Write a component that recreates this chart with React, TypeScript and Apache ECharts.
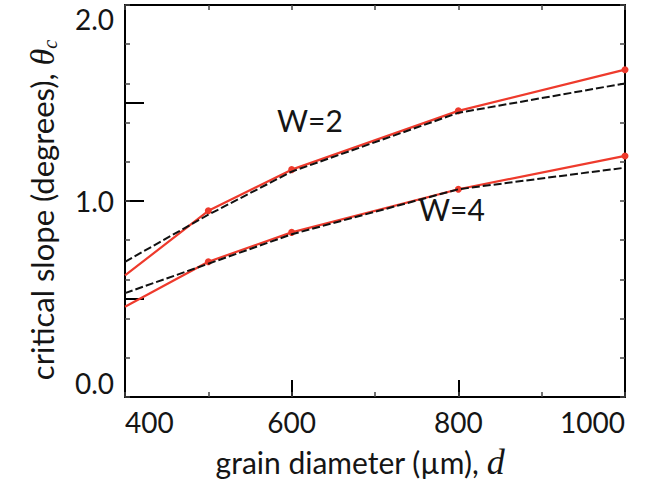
import React, { useEffect, useRef } from 'react';
import * as echarts from 'echarts';

const diameters = [400, 500, 600, 800, 1000];
const w2Sim = [0.62, 0.95, 1.16, 1.46, 1.67];
const w2Fit = [0.69, 0.93, 1.15, 1.45, 1.6];
const w4Sim = [0.46, 0.69, 0.84, 1.06, 1.23];
const w4Fit = [0.53, 0.68, 0.83, 1.06, 1.17];
const curveLabels = ['W=2', 'W=4'];
const xTitle = 'grain diameter (µm), ';
const xVar = 'd';
const yTitle = 'critical slope (degrees), ';
const yVar = 'θ';
const ySub = 'c';

const SANS = 'Lato';
const SERIF = 'Liberation Serif';
const RED = '#ee3a2c';
const INK = '#151515';

function pairs(xs: number[], ys: number[], hideFirst: boolean) {
  return xs.map((x, i) =>
    hideFirst && i === 0 ? { value: [x, ys[i]], symbol: 'none' } : { value: [x, ys[i]] }
  );
}

export default function App() {
  const ref = useRef<HTMLDivElement>(null);
  useEffect(() => {
    const chart = echarts.init(ref.current!, null, { renderer: 'svg' });
    const axisLine = { show: true, onZero: false, lineStyle: { color: '#000', width: 2 } };
    const minorTick = { show: true, inside: true, length: 5, lineStyle: { color: '#444', width: 1.5 } };
    chart.setOption({
      animation: false,
      backgroundColor: '#fff',
      grid: { left: 125, right: 29, top: 5, bottom: 88, containLabel: false },
      xAxis: [
        {
          type: 'value', position: 'bottom', min: 400, max: 1000, interval: 200,
          axisLine,
          axisTick: { show: true, inside: true, length: 17, lineStyle: { color: '#000', width: 2 } },
          axisLabel: {
            fontFamily: SANS, fontSize: 28, color: INK, margin: 11,
            formatter: (v: number) => String(v),
            alignMinLabel: 'left', alignMaxLabel: 'right',
          },
          splitLine: { show: false },
          name: `{a|${xTitle}}{d|${xVar}}`,
          nameLocation: 'middle',
          nameGap: 47,
          nameTextStyle: {
            padding: [0, 30, 0, 0],
            rich: {
              a: { fontFamily: SANS, fontSize: 30, color: INK },
              d: { fontFamily: SERIF, fontStyle: 'italic', fontSize: 36, color: INK },
            },
          },
        },
        {
          type: 'value', position: 'bottom', min: 400, max: 1000, interval: 100,
          axisLine: { show: false }, axisTick: minorTick, axisLabel: { show: false }, splitLine: { show: false },
        },
        {
          type: 'value', position: 'top', min: 400, max: 1000, interval: 100,
          axisLine, axisTick: minorTick, axisLabel: { show: false }, splitLine: { show: false },
        },
      ],
      yAxis: [
        {
          type: 'value', position: 'left', min: 0, max: 2, interval: 0.5,
          axisLine,
          axisTick: { show: true, inside: true, length: 19, lineStyle: { color: '#000', width: 2 } },
          axisLabel: {
            fontFamily: SANS, fontSize: 28, color: INK, margin: 11,
            formatter: (v: number) => (Math.abs(v - Math.round(v)) < 1e-6 ? v.toFixed(1) : ''),
            verticalAlignMinLabel: 'bottom', verticalAlignMaxLabel: 'top',
          },
          splitLine: { show: false },
          name: `{a|${yTitle}}{t|${yVar}}{s|${ySub}}`,
          nameLocation: 'middle',
          nameGap: 65,
          nameRotate: 90,
          nameTextStyle: {
            padding: [0, 18, 0, 0],
            rich: {
              a: { fontFamily: SANS, fontSize: 31, color: INK },
              t: { fontFamily: SERIF, fontStyle: 'italic', fontSize: 34, color: INK },
              s: { fontFamily: SERIF, fontStyle: 'italic', fontSize: 20, color: INK, padding: [16, 0, 0, 0] },
            },
          },
        },
        {
          type: 'value', position: 'left', min: 0, max: 2, interval: 0.2,
          axisLine: { show: false }, axisTick: minorTick, axisLabel: { show: false }, splitLine: { show: false },
        },
        {
          type: 'value', position: 'right', min: 0, max: 2, interval: 0.2,
          axisLine, axisTick: minorTick, axisLabel: { show: false }, splitLine: { show: false },
        },
      ],
      series: [
        {
          type: 'line', name: 'W=2 sim', xAxisIndex: 0, yAxisIndex: 0,
          data: pairs(diameters, w2Sim, true),
          symbol: 'circle', symbolSize: 7, showSymbol: true,
          lineStyle: { color: RED, width: 2.2 }, itemStyle: { color: RED },
          z: 2,
        },
        {
          type: 'line', name: 'W=4 sim', xAxisIndex: 0, yAxisIndex: 0,
          data: pairs(diameters, w4Sim, true),
          symbol: 'circle', symbolSize: 7, showSymbol: true,
          lineStyle: { color: RED, width: 2.2 }, itemStyle: { color: RED },
          z: 2,
        },
        {
          type: 'line', name: 'W=2 fit', xAxisIndex: 0, yAxisIndex: 0,
          data: pairs(diameters, w2Fit, false),
          symbol: 'none',
          lineStyle: { color: '#111', width: 2, type: [8, 3] },
          z: 3,
        },
        {
          type: 'line', name: 'W=4 fit', xAxisIndex: 0, yAxisIndex: 0,
          data: pairs(diameters, w4Fit, false),
          symbol: 'none',
          lineStyle: { color: '#111', width: 2, type: [8, 3] },
          z: 3,
        },
      ],
      graphic: [
        { type: 'text', left: 277, top: 105, style: { text: curveLabels[0], font: `30px ${SANS}`, fill: INK } },
        { type: 'text', left: 419, top: 194, style: { text: curveLabels[1], font: `30px ${SANS}`, fill: INK } },
      ],
    });
    return () => chart.dispose();
  }, []);
  return <div ref={ref} style={{ position: 'fixed', left: 0, top: 0, width: 654, height: 485 }} />;
}
